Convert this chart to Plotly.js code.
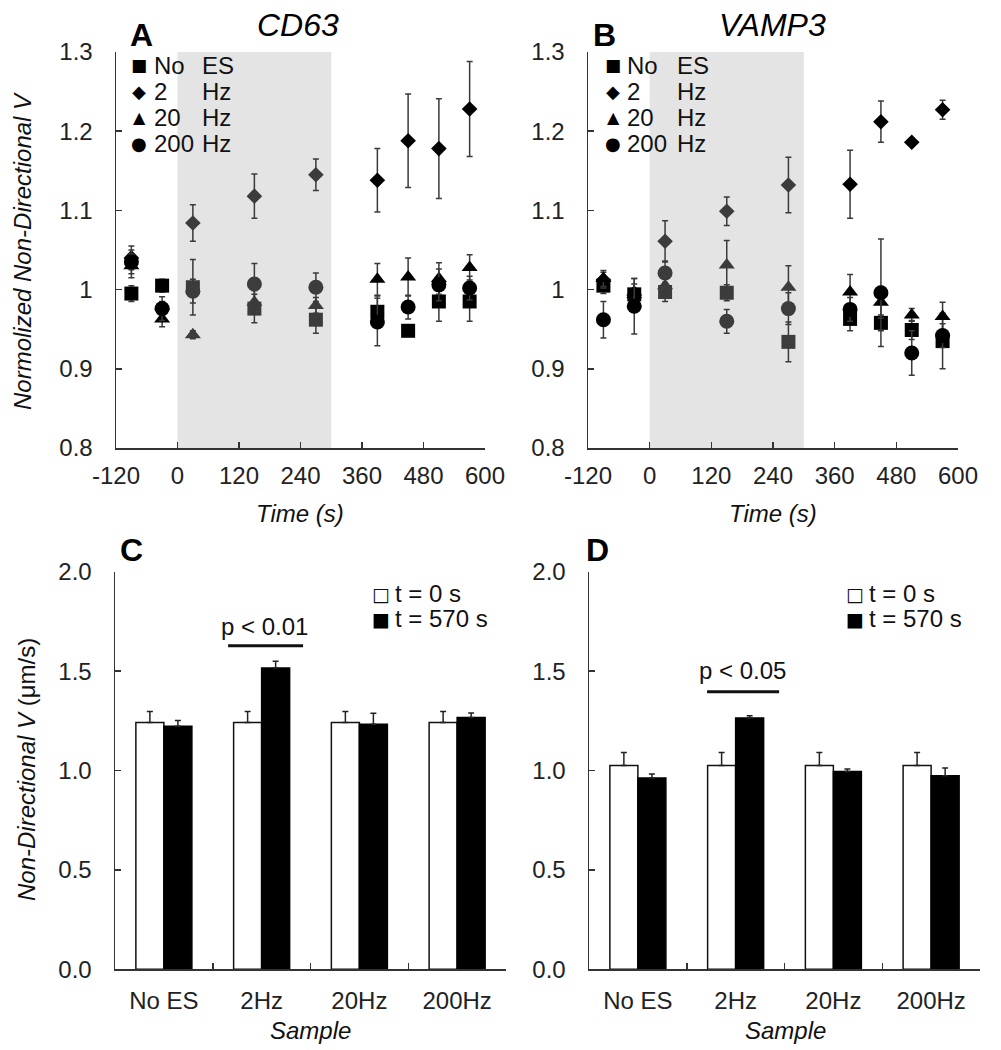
<!DOCTYPE html>
<html>
<head>
<meta charset="utf-8">
<script src="https://cdn.plot.ly/plotly-3.0.1.min.js"></script>
<style>html,body{margin:0;padding:0;background:#fff;}#chart{width:1001px;height:1050px;}</style>
</head>
<body>
<div id="chart"></div>
<script>
// ---------------- DATA ----------------
const timePoints = [-90, -30, 30, 150, 270, 390, 450, 510, 570];
const timeTicks = [-120, 0, 120, 240, 360, 480, 600];
const timeTickText = ['-120', '0', '120', '240', '360', '480', '600'];
const normTicks = [0.8, 0.9, 1.0, 1.1, 1.2, 1.3];
const normTickText = ['0.8', '0.9', '1', '1.1', '1.2', '1.3'];
const stimWindow = [0, 300];

const seriesLabels = ['No', '2', '20', '200'];
const seriesUnits = ['ES', 'Hz', 'Hz', 'Hz'];
const seriesGlyphs = ['\u25A0', '\u25C6', '\u25B2', '\u25CF'];

// Panel A - CD63
const cd63NoES = [0.995, 1.005, 1.003, 0.976, 0.962, 0.972, 0.948, 0.985, 0.985];
const cd63NoESErr = [0.010, 0.008, 0.035, 0.018, 0.017, 0.020, 0.006, 0.025, 0.025];
const cd63Hz2 = [1.040, 0.975, 1.084, 1.118, 1.145, 1.138, 1.188, 1.178, 1.228];
const cd63Hz2Err = [0.015, 0.010, 0.023, 0.028, 0.020, 0.040, 0.059, 0.063, 0.060];
const cd63Hz20 = [1.030, 0.963, 0.943, 0.984, 0.980, 1.013, 1.016, 1.014, 1.028];
const cd63Hz20Err = [0.015, 0.010, 0.005, 0.015, 0.010, 0.020, 0.024, 0.020, 0.016];
const cd63Hz200 = [1.035, 0.976, 0.998, 1.007, 1.003, 0.959, 0.978, 1.006, 1.002];
const cd63Hz200Err = [0.015, 0.015, 0.015, 0.026, 0.018, 0.030, 0.015, 0.020, 0.015];

// Panel B - VAMP3
const vampNoES = [1.005, 0.994, 0.997, 0.996, 0.934, 0.963, 0.958, 0.949, 0.935];
const vampNoESErr = [0.010, 0.020, 0.012, 0.010, 0.025, 0.015, 0.010, 0.012, 0.035];
const vampHz2 = [1.012, 0.990, 1.061, 1.099, 1.132, 1.133, 1.212, 1.186, 1.227];
const vampHz2Err = [0.010, 0.012, 0.026, 0.018, 0.035, 0.043, 0.026, 0.003, 0.012];
const vampHz20 = [1.014, 0.997, 1.005, 1.031, 1.003, 0.997, 0.984, 0.968, 0.966];
const vampHz20Err = [0.010, 0.010, 0.010, 0.031, 0.027, 0.022, 0.020, 0.008, 0.018];
const vampHz200 = [0.962, 0.979, 1.021, 0.960, 0.976, 0.975, 0.996, 0.920, 0.942];
const vampHz200Err = [0.023, 0.035, 0.015, 0.015, 0.020, 0.015, 0.068, 0.028, 0.015];

// Panels C, D - absolute velocity
const sampleCats = ['No ES', '2Hz', '20Hz', '200Hz'];
const barLegend = ['t = 0 s', 't = 570 s'];
const velTicks = [0, 0.5, 1.0, 1.5, 2.0];
const cd63T0 = [1.242, 1.242, 1.242, 1.242];
const cd63T0Err = [0.055, 0.055, 0.055, 0.055];
const cd63T570 = [1.222, 1.515, 1.233, 1.267];
const cd63T570Err = [0.030, 0.034, 0.055, 0.022];
const vampT0 = [1.025, 1.025, 1.025, 1.025];
const vampT0Err = [0.065, 0.065, 0.065, 0.065];
const vampT570 = [0.962, 1.264, 0.995, 0.973];
const vampT570Err = [0.020, 0.012, 0.012, 0.040];
const pLabels = ['p < 0.01', 'p < 0.05'];

// ---------------- HELPERS ----------------
const W = 1001, H = 1050;
const px = x => x / W;
const py = y => 1 - y / H;
const FONT = 'Liberation Sans, Arial, sans-serif';
const GLYPH_FONT = 'DejaVu Sans, sans-serif';
const AX = '#333';
const FS = 24;

function colorsFor(ts) {
  return ts.map(t => (t > stimWindow[0] && t < stimWindow[1]) ? '#3c3c3c' : '#000');
}
const symbols = ['square', 'diamond', 'triangle-up', 'circle'];
const sizes = [14, 12, 14, 15];

function scatterTraces(series, errs, xa, ya) {
  return series.map((vals, i) => ({
    type: 'scatter', mode: 'markers', x: timePoints, y: vals,
    xaxis: xa, yaxis: ya, showlegend: false, cliponaxis: false,
    marker: { symbol: symbols[i], size: sizes[i], color: colorsFor(timePoints), line: { width: 0 } },
    error_y: { type: 'data', array: errs[i], visible: true, color: '#3a3a3a', thickness: 1.5, width: 3 }
  }));
}

function barTraces(v0, e0, v1, e1, xa, ya) {
  return [
    { type: 'bar', x: sampleCats, y: v0, xaxis: xa, yaxis: ya, showlegend: false,
      marker: { color: '#fff', line: { color: '#111', width: 1.5 } },
      error_y: { type: 'data', symmetric: false, array: e0, arrayminus: e0.map(() => 0), color: '#222', thickness: 1.5, width: 3 } },
    { type: 'bar', x: sampleCats, y: v1, xaxis: xa, yaxis: ya, showlegend: false,
      marker: { color: '#000', line: { color: '#000', width: 1.5 } },
      error_y: { type: 'data', symmetric: false, array: e1, arrayminus: e1.map(() => 0), color: '#222', thickness: 1.5, width: 3 } }
  ];
}

const data = [].concat(
  scatterTraces([cd63NoES, cd63Hz2, cd63Hz20, cd63Hz200], [cd63NoESErr, cd63Hz2Err, cd63Hz20Err, cd63Hz200Err], 'x', 'y'),
  scatterTraces([vampNoES, vampHz2, vampHz20, vampHz200], [vampNoESErr, vampHz2Err, vampHz20Err, vampHz200Err], 'x2', 'y2'),
  barTraces(cd63T0, cd63T0Err, cd63T570, cd63T570Err, 'x3', 'y3'),
  barTraces(vampT0, vampT0Err, vampT570, vampT570Err, 'x4', 'y4')
);

const tickFont = { family: FONT, size: FS, color: '#222' };
const common = { ticks: 'inside', ticklen: 6, tickwidth: 1.5, tickcolor: AX, showline: true, linecolor: AX,
  linewidth: 1.5, showgrid: false, zeroline: false, tickfont: tickFont, fixedrange: true };
function timeAxis(domain, anchor) {
  return Object.assign({ domain, anchor, range: [-120, 600], tickvals: timeTicks, ticktext: timeTickText, ticklabelstandoff: 6 }, common);
}
function normAxis(domain, anchor) {
  return Object.assign({ domain, anchor, range: [0.8, 1.3], tickvals: normTicks, ticktext: normTickText, ticklabelstandoff: 17 }, common);
}
function catAxis(domain, anchor) {
  return Object.assign({ domain, anchor, type: 'category', range: [-0.5, 3.5], tickson: 'boundaries', ticklabelstandoff: 9 }, common);
}
function velAxis(domain, anchor) {
  return Object.assign({ domain, anchor, range: [0, 2], tickvals: velTicks, tickformat: '.1f', ticklabelstandoff: 17 }, common);
}

const yTop = [py(448), py(52)];
const yBot = [py(969.3), py(571.7)];

function ann(text, x, y, opts) {
  return Object.assign({ text, x: px(x), y: py(y), xref: 'paper', yref: 'paper', showarrow: false,
    xanchor: 'center', yanchor: 'middle', font: { family: FONT, size: FS, color: '#111' } }, opts || {});
}
const bigFont = { family: FONT, size: 32, color: '#000' };

const annotations = [
  ann('<b>A</b>', 141, 35, { font: bigFont }),
  ann('<b>B</b>', 604, 35, { font: bigFont }),
  ann('<b>C</b>', 131, 550, { font: bigFont }),
  ann('<b>D</b>', 597, 550, { font: bigFont }),
  ann('<i>CD63</i>', 298, 25, { font: bigFont }),
  ann('<i>VAMP3</i>', 772, 25, { font: bigFont }),
  ann('<i>Normolized Non-Directional V</i>', 22, 251, { textangle: -90 }),
  ann('<i>Non-Directional V</i> (\u03BCm/s)', 26, 770, { textangle: -90 }),
  ann('<i>Time (s)</i>', 300, 513),
  ann('<i>Time (s)</i>', 773, 513),
  ann('<i>Sample</i>', 310, 1030),
  ann('<i>Sample</i>', 785, 1030),
  ann(pLabels[0], 264, 626),
  ann(pLabels[1], 742, 670)
];

const legendRows = [65, 91, 118, 144];
const glyphSizes = [17, 18, 16, 18];
[[139, 152, 200], [613, 625, 675]].forEach(cols => {
  seriesLabels.forEach((lab, i) => {
    annotations.push(ann(seriesGlyphs[i], cols[0], legendRows[i], { font: { family: GLYPH_FONT, size: glyphSizes[i], color: '#000' } }));
    annotations.push(ann(lab, cols[1], legendRows[i], { xanchor: 'left' }));
    annotations.push(ann(seriesUnits[i], cols[2], legendRows[i], { xanchor: 'left' }));
  });
});
[[381, 393], [855, 867]].forEach(cols => {
  annotations.push(ann('\u25A1', cols[0], 594, { font: { family: GLYPH_FONT, size: 19, color: '#111' } }));
  annotations.push(ann('\u25A0', cols[0], 619, { font: { family: GLYPH_FONT, size: 19, color: '#000' } }));
  annotations.push(ann(barLegend[0], cols[1], 593, { xanchor: 'left' }));
  annotations.push(ann(barLegend[1], cols[1], 618, { xanchor: 'left' }));
});

const shapes = [
  { type: 'rect', xref: 'x', yref: 'y', x0: stimWindow[0], x1: stimWindow[1], y0: 0.8, y1: 1.3, fillcolor: '#e4e4e4', line: { width: 0 }, layer: 'below' },
  { type: 'rect', xref: 'x2', yref: 'y2', x0: stimWindow[0], x1: stimWindow[1], y0: 0.8, y1: 1.3, fillcolor: '#e4e4e4', line: { width: 0 }, layer: 'below' },
  { type: 'line', xref: 'x3', yref: 'y3', x0: 0.657, x1: 1.424, y0: 1.628, y1: 1.628, line: { color: '#111', width: 3 } },
  { type: 'line', xref: 'x4', yref: 'y4', x0: 0.708, x1: 1.445, y0: 1.396, y1: 1.396, line: { color: '#111', width: 3 } }
];

const layout = {
  width: W, height: H, margin: { l: 0, r: 0, t: 0, b: 0 },
  paper_bgcolor: '#fff', plot_bgcolor: 'rgba(0,0,0,0)', showlegend: false,
  font: { family: FONT, size: FS, color: '#111' },
  barmode: 'group', bargap: 0.427, bargroupgap: 0,
  xaxis: timeAxis([px(116), px(485)], 'y'),
  yaxis: normAxis(yTop, 'x'),
  xaxis2: timeAxis([px(588), px(958)], 'y2'),
  yaxis2: normAxis(yTop, 'x2'),
  xaxis3: catAxis([px(115), px(506)], 'y3'),
  yaxis3: velAxis(yBot, 'x3'),
  xaxis4: catAxis([px(589), px(980)], 'y4'),
  yaxis4: velAxis(yBot, 'x4'),
  annotations, shapes
};

Plotly.newPlot('chart', data, layout, { staticPlot: true, displayModeBar: false });
</script>
</body>
</html>
